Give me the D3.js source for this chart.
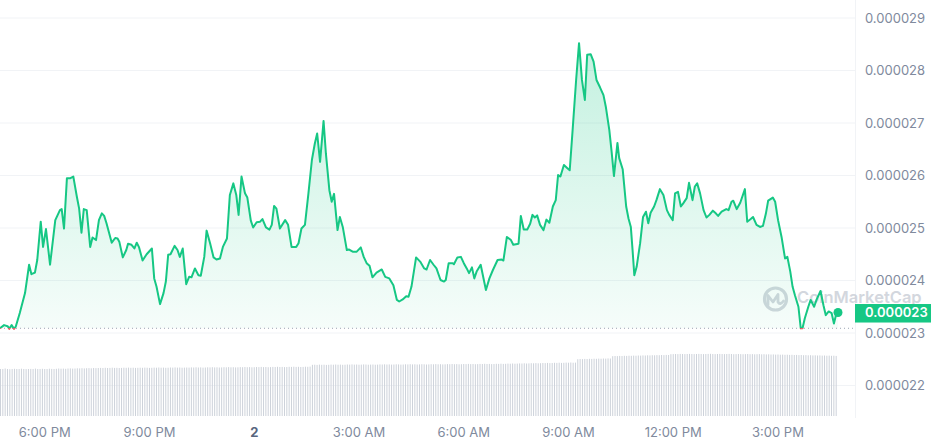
<!DOCTYPE html>
<html>
<head>
<meta charset="utf-8">
<script src="https://cdn.jsdelivr.net/npm/d3@7"></script>
<style>
  html, body { margin: 0; padding: 0; background: #ffffff; }
  svg { display: block; font-family: Inter, "Noto Sans", sans-serif; }
</style>
</head>
<body>
<svg id="chart" width="931" height="445"></svg>
<script>
// ---------- DATA ----------
// Start of the 24h window (local time) and price samples (minutes after start, price in 1e-6 units)
const startTime = new Date(2024, 0, 1, 16, 44);
const minutes = [0,7,13,16,20,24,27,34,43,50,54,60,64,70,74,79,86,95,103,106,110,115,121,126,132,136,140,144,149,155,159,165,170,175,179,183,192,198,202,205,211,217,220,226,231,235,239,245,252,261,265,269,275,281,285,289,293,300,305,309,314,320,325,329,335,341,345,351,355,361,367,372,378,383,390,395,401,406,410,415,421,425,431,435,441,447,451,457,463,467,471,475,481,490,495,501,509,513,518,524,530,536,541,545,550,556,560,566,570,574,580,584,589,596,600,606,613,620,625,630,635,640,647,656,662,669,676,682,686,692,698,702,707,715,722,729,733,739,745,750,757,763,766,771,778,780,786,792,797,802,806,811,815,819,826,835,841,847,855,862,865,871,878,882,891,895,900,906,911,915,919,923,928,934,939,944,950,955,959,963,969,975,979,984,990,995,1000,1005,1009,1015,1020,1025,1031,1037,1041,1047,1051,1055,1061,1064,1070,1076,1080,1084,1087,1090,1094,1100,1105,1110,1114,1118,1124,1128,1134,1140,1146,1150,1156,1160,1165,1170,1174,1180,1184,1190,1194,1198,1203,1209,1214,1219,1225,1230,1234,1240,1248,1252,1257,1260,1266,1272,1280,1284,1290,1294,1300,1306,1311,1316,1320,1328,1332,1337,1343,1349,1353,1358,1362,1366,1372,1376,1379,1383,1389,1393,1399,1403,1410,1415,1419,1424,1429,1433,1437,1440];
const prices = [23.09,23.15,23.13,23.08,23.15,23.08,23.12,23.38,23.76,24.30,24.12,24.15,24.39,25.12,24.64,24.98,24.30,25.15,25.34,25.36,24.99,25.95,25.95,25.98,25.60,25.37,24.91,25.36,25.34,24.64,24.82,24.77,25.15,25.28,25.23,25.09,24.72,24.81,24.80,24.74,24.44,24.58,24.70,24.68,24.61,24.72,24.63,24.38,24.50,24.61,24.04,23.88,23.55,23.76,23.98,24.49,24.50,24.66,24.58,24.45,24.61,23.93,24.07,24.06,24.23,24.10,24.09,24.45,24.95,24.71,24.44,24.40,24.42,24.64,24.80,25.63,25.85,25.63,25.25,25.98,25.66,25.58,25.14,25.01,25.11,25.12,25.17,25.01,24.97,25.06,25.42,25.37,24.99,25.15,25.06,24.64,24.64,24.71,24.99,25.06,25.66,26.30,26.61,26.80,26.26,27.04,26.42,25.72,25.50,25.65,24.96,25.21,25.02,24.58,24.59,24.55,24.55,24.63,24.45,24.33,24.28,24.06,24.15,24.21,24.07,24.04,23.91,23.63,23.60,23.64,23.70,23.69,23.88,24.44,24.36,24.23,24.21,24.39,24.30,24.23,24.01,23.98,24.01,24.33,24.33,24.31,24.44,24.45,24.33,24.23,24.14,24.25,24.04,24.17,24.30,23.82,24.04,24.20,24.39,24.40,24.38,24.83,24.77,24.68,24.70,25.23,24.97,24.97,25.08,25.25,25.20,25.24,25.06,24.96,25.16,25.10,25.41,25.53,26.01,25.98,26.20,26.14,26.10,26.87,27.82,28.52,27.82,27.44,28.30,28.31,28.17,27.82,27.68,27.53,27.31,26.87,26.45,25.99,26.62,26.33,26.12,25.41,25.18,25.02,24.58,24.10,24.26,24.71,25.21,25.31,25.09,25.29,25.41,25.53,25.74,25.63,25.34,25.25,25.15,25.66,25.69,25.41,25.47,25.57,25.86,25.53,25.79,25.85,25.66,25.34,25.20,25.25,25.33,25.28,25.23,25.31,25.36,25.34,25.50,25.52,25.36,25.48,25.74,25.12,25.17,25.21,25.06,25.02,25.04,25.27,25.52,25.58,25.50,25.15,24.83,24.42,24.45,24.17,23.88,23.72,23.50,23.09,23.09,23.28,23.50,23.63,23.50,23.63,23.80,23.53,23.34,23.41,23.38,23.18,23.36,23.39];
// Volume bars, one every 4 minutes from startTime (relative units)
const volumeStepMinutes = 4;
const volumes = [
47,47,47.5,47,46.8,47,47.2,47,47,47.3,47,46.9,47,47.1,47,47.4,47,47,47.2,47,
47,47.3,47.1,47,47.2,47.5,47.3,47.4,47.2,47.5,47.6,47.4,47.5,47.7,47.6,47.8,47.6,47.8,47.9,47.7,
48,47.9,48,48.1,48,48.2,48,48.1,48.3,48.1,48.2,48,48.1,48.3,48.2,48.4,48.2,48.3,48.1,48.2,
48.3,48.2,48.4,48.3,48.1,48.2,48.4,48.3,48.5,48.3,48.4,48.2,48.3,48.5,48.4,48.6,48.4,48.5,48.3,48.4,
48.5,48.4,48.6,48.5,48.7,48.5,48.6,48.4,48.5,48.7,48.6,48.8,48.6,48.7,48.5,48.6,48.8,48.7,48.9,48.7,
48.8,48.6,48.7,48.9,48.8,49,48.8,48.9,48.7,48.8,49,48.9,49.1,48.9,49,48.8,48.9,49.1,49,49.2,
49,49.1,48.9,49,49.2,49.1,49.3,49.1,49.2,49,49.1,49.3,49.2,49.4,51.2,51.3,51.1,51.4,51.2,51.3,
51.1,51.2,51.4,51.3,51.5,51.3,51.4,51.2,51.3,51.5,51.4,51.6,51.4,51.5,51.3,51.4,51.6,51.5,51.3,51.4,
51.5,51.3,51.4,51.6,51.5,51.7,51.5,51.6,51.4,51.5,51.7,51.6,51.4,51.5,51.7,51.6,51.8,51.6,51.7,51.5,
51.6,51.8,51.7,51.5,51.6,51.8,51.7,51.9,51.7,51.8,51.6,51.7,51.9,51.8,52,51.8,51.9,51.7,51.8,52,
51.9,52.1,51.9,52,51.8,51.9,52.1,52,52.2,52,52.1,51.9,52,52.2,52.1,52.3,52.1,52.2,52.4,52.3,
52.5,52.3,52.4,52.6,52.5,52.7,52.5,52.6,52.8,52.7,52.9,52.7,52.8,53,52.9,53.1,52.9,53,53.2,53.1,
53.3,53.1,53.2,53.4,53.3,53.5,53.3,53.4,56.8,57,56.9,57.1,57,57.2,57.1,57.3,57.2,57.4,57.3,57.5,
57.4,57.6,57.5,59.8,60,59.9,60.1,60,60.2,60.1,60.3,60.2,60.4,60.3,60.5,60.4,60.6,60.5,60.7,60.6,
60.8,60.7,60.9,60.8,61,60.9,61.1,61,61.8,61.9,62,61.9,62.1,62,61.9,62,62.1,62,61.9,62,
62.1,62,61.9,62,62.1,62.2,62,61.9,62,62.1,62,61.9,62,62.1,62,61.8,61.9,62,61.9,61.8,
61.9,62,61.8,61.9,61.7,61.8,61.9,61.7,61.8,61.6,61.7,61.5,61.6,61.4,61.5,61.3,61.4,61.2,61.3,61.1,
61.2,61,61.1,60.9,61,60.8,60.9,60.7,60.8,60.6,60.7,60.5,60.6,60.4,60.5,60.3,60.4,60.2,60.3,60.1
];
const priceTicks = [22, 23, 24, 25, 26, 27, 28, 29];
const priceUnit = 1e-6;

// ---------- CHART ----------
const svg = d3.select("#chart");
const W = 931, H = 445;
const plotRight = 838, gridRight = 855, axisX = 865;
const endTime = d3.timeMinute.offset(startTime, 1440);

const x = d3.scaleTime().domain([startTime, endTime]).range([0, plotRight]);
const y = d3.scaleLinear().domain([22, 29]).range([385.5, 18]);
const yv = d3.scaleLinear().domain([0, 62]).range([416, 354]);

const data = minutes.map((m, i) => ({ t: d3.timeMinute.offset(startTime, m), v: prices[i] }));
const base = prices[0];
const yBase = y(base);
const green = "#16c784", red = "#ea3943";

const defs = svg.append("defs");
const gG = defs.append("linearGradient").attr("id", "gGreen")
  .attr("gradientUnits", "userSpaceOnUse").attr("x1", 0).attr("x2", 0).attr("y1", y(28.6)).attr("y2", yBase);
gG.append("stop").attr("offset", 0).attr("stop-color", green).attr("stop-opacity", 0.26);
gG.append("stop").attr("offset", 1).attr("stop-color", green).attr("stop-opacity", 0.04);
const gR = defs.append("linearGradient").attr("id", "gRed")
  .attr("gradientUnits", "userSpaceOnUse").attr("x1", 0).attr("x2", 0).attr("y1", yBase).attr("y2", yBase + 20);
gR.append("stop").attr("offset", 0).attr("stop-color", red).attr("stop-opacity", 0.05);
gR.append("stop").attr("offset", 1).attr("stop-color", red).attr("stop-opacity", 0.2);
defs.append("clipPath").attr("id", "cAbove").append("rect")
  .attr("x", -5).attr("y", 0).attr("width", W).attr("height", yBase);
defs.append("clipPath").attr("id", "cBelow").append("rect")
  .attr("x", -5).attr("y", yBase).attr("width", W).attr("height", H - yBase);

// gridlines
svg.append("g").selectAll("line").data(priceTicks).join("line")
  .attr("x1", 0).attr("x2", gridRight)
  .attr("y1", d => y(d)).attr("y2", d => y(d))
  .attr("stroke", "#f1f3f6").attr("stroke-width", 1);
// vertical separator
svg.append("line").attr("x1", gridRight + 0.5).attr("x2", gridRight + 0.5)
  .attr("y1", 0).attr("y2", 418).attr("stroke", "#f1f3f6");

// volume bars
svg.append("g").selectAll("rect").data(volumes).join("rect")
  .attr("x", (d, i) => x(d3.timeMinute.offset(startTime, i * volumeStepMinutes)))
  .attr("width", 1)
  .attr("y", d => yv(d))
  .attr("height", d => yv(0) - yv(d))
  .attr("fill", "#cdd2da");

// watermark
const wm = svg.append("g").attr("opacity", 0.75);
wm.append("circle").attr("cx", 775.5).attr("cy", 299).attr("r", 11)
  .attr("fill", "none").attr("stroke", "#c5cad3").attr("stroke-width", 3.2);
wm.append("path")
  .attr("d", "M768,305 L768,295.5 L773,302 L778,294.5 L778,302 Q780,305.5 783.5,301")
  .attr("fill", "none").attr("stroke", "#c5cad3").attr("stroke-width", 2.8)
  .attr("stroke-linejoin", "round").attr("stroke-linecap", "round");
wm.append("text").attr("x", 797).attr("y", 303)
  .attr("font-size", 16.5).attr("font-weight", 600).attr("fill", "#c5cad3")
  .text("CoinMarketCap");

// area
const area = d3.area().x(d => x(d.t)).y0(yBase).y1(d => y(d.v));
svg.append("path").datum(data).attr("d", area).attr("fill", "url(#gGreen)").attr("clip-path", "url(#cAbove)");
svg.append("path").datum(data).attr("d", area).attr("fill", "url(#gRed)").attr("clip-path", "url(#cBelow)");

// baseline dotted
svg.append("line").attr("x1", 0).attr("x2", gridRight).attr("y1", yBase).attr("y2", yBase)
  .attr("stroke", "#9aa3b3").attr("stroke-width", 1).attr("stroke-dasharray", "1,3");

// line
const line = d3.line().x(d => x(d.t)).y(d => y(d.v));
svg.append("path").datum(data).attr("d", line).attr("fill", "none").attr("stroke", green)
  .attr("stroke-width", 2).attr("stroke-linejoin", "round").attr("clip-path", "url(#cAbove)");
svg.append("path").datum(data).attr("d", line).attr("fill", "none").attr("stroke", red)
  .attr("stroke-width", 2).attr("stroke-linejoin", "round").attr("clip-path", "url(#cBelow)");

// end dot
const last = data[data.length - 1];
svg.append("circle").attr("cx", x(last.t)).attr("cy", y(last.v)).attr("r", 4.5).attr("fill", green);

// y axis
const yAxis = d3.axisRight(y).tickValues(priceTicks).tickSize(0).tickPadding(0)
  .tickFormat(d => (d * priceUnit).toFixed(6));
const gy = svg.append("g").attr("transform", `translate(${axisX},0)`).call(yAxis);
gy.select(".domain").remove();
gy.selectAll("text").attr("font-size", 13).attr("fill", "#808a9d")
  .attr("font-family", "Inter, 'Noto Sans', sans-serif").attr("text-anchor", "start");

// current price label
const lastY = y(last.v);
svg.append("rect").attr("x", gridRight).attr("y", lastY - 8.5).attr("width", W - gridRight).attr("height", 18.5)
  .attr("fill", green);
svg.append("text").attr("x", axisX).attr("y", lastY + 0.8).attr("dy", "0.32em")
  .attr("font-size", 13).attr("font-weight", 600).attr("fill", "#ffffff")
  .text((last.v * priceUnit).toFixed(6));

// x axis
const isMidnight = d => d.getHours() === 0;
const fmtDay = d3.timeFormat("%-d"), fmtHour = d3.timeFormat("%-I:%M %p");
const xAxis = d3.axisBottom(x).tickValues(d3.timeHour.every(3).range(startTime, endTime))
  .tickSize(0).tickPadding(0)
  .tickFormat(d => isMidnight(d) ? fmtDay(d) : fmtHour(d));
const gx = svg.append("g").attr("transform", "translate(0,428)").call(xAxis);
gx.select(".domain").remove();
gx.selectAll("text").attr("font-size", 13)
  .attr("font-family", "Inter, 'Noto Sans', sans-serif")
  .attr("font-weight", d => isMidnight(d) ? 700 : 400)
  .attr("fill", d => isMidnight(d) ? "#58667e" : "#808a9d");
</script>
</body>
</html>
